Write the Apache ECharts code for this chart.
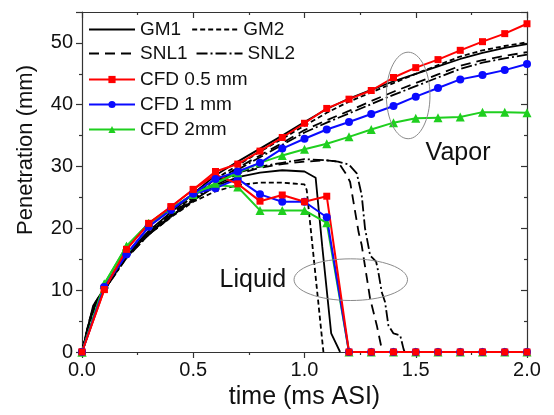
<!DOCTYPE html>
<html>
<head>
<meta charset="utf-8">
<script src="https://cdn.jsdelivr.net/npm/echarts@6/dist/echarts.min.js"></script>
<style>
  html, body { margin: 0; padding: 0; background: #fff; }
  #chart { width: 554px; height: 415px; }
</style>
</head>
<body>
<div id="chart"></div>
<script>
// ---- CFD results, sampled every 0.1 ms ----
const cfdTime = [0, 0.1, 0.2, 0.3, 0.4, 0.5, 0.6, 0.7, 0.8, 0.9, 1.0, 1.1, 1.2, 1.3, 1.4, 1.5, 1.6, 1.7, 1.8, 1.9, 2.0];

const cfd05Vapor  = [0, 10.1, 16.6, 20.8, 23.5, 26.3, 29.2, 30.4, 32.5, 34.7, 37.0, 39.4, 40.9, 42.3, 44.4, 46.0, 47.3, 48.8, 50.2, 51.5, 53.1];
const cfd1Vapor   = [0, 10.5, 15.8, 20.3, 23.0, 25.6, 28.0, 29.2, 30.6, 32.9, 34.5, 36.0, 37.2, 38.5, 39.8, 41.3, 42.7, 44.1, 44.8, 45.6, 46.6];
const cfd2Vapor   = [0, 11.0, 17.1, 20.8, 23.2, 25.5, 27.3, 29.0, 30.6, 31.8, 32.8, 33.7, 34.8, 36.0, 37.1, 37.8, 37.9, 38.0, 38.8, 38.8, 38.7];

const cfd05Liquid = [0, 10.1, 16.6, 20.8, 23.5, 26.3, 28.7, 27.2, 24.4, 25.4, 24.3, 25.2, 0, 0, 0, 0, 0, 0, 0, 0, 0];
const cfd1Liquid  = [0, 10.5, 15.8, 20.3, 23.0, 25.6, 26.5, 28.0, 25.5, 24.3, 24.3, 21.8, 0, 0, 0, 0, 0, 0, 0, 0, 0];
const cfd2Liquid  = [0, 11.0, 17.1, 20.8, 23.2, 25.5, 27.0, 26.7, 22.9, 22.9, 22.9, 20.9, 0, 0, 0, 0, 0, 0, 0, 0, 0];

// ---- Experimental vapor penetration (GM and SNL runs) ----
const expVaporTime = [0, 0.03, 0.06, 0.1, 0.15, 0.2, 0.3, 0.4, 0.5, 0.6, 0.7, 0.8, 0.9, 1.0, 1.1, 1.2, 1.3, 1.4, 1.5, 1.6, 1.7, 1.8, 1.9, 2.0];
const gm1Vapor  = [0, 4.5, 7.8, 10.0, 13.2, 15.8, 19.6, 22.6, 25.6, 28.6, 30.8, 32.9, 35.0, 37.2, 39.3, 41.0, 42.4, 43.8, 45.0, 46.2, 47.4, 48.4, 49.2, 49.8];
const gm2Vapor  = [0, 4.2, 7.4, 9.8, 13.0, 15.6, 19.4, 22.3, 25.2, 28.0, 30.2, 32.4, 34.5, 36.6, 38.7, 40.5, 42.0, 43.5, 45.0, 46.4, 47.8, 48.8, 49.5, 50.1];
const snl1Vapor = [0, 4.8, 8.0, 10.3, 13.4, 15.9, 19.3, 22.2, 25.0, 27.6, 29.8, 31.8, 33.8, 35.9, 37.5, 39.0, 40.6, 42.1, 43.5, 44.9, 46.3, 47.2, 47.9, 48.5];
const snl2Vapor = [0, 4.5, 7.6, 10.0, 13.1, 15.6, 19.0, 21.9, 24.7, 27.3, 29.5, 31.5, 33.5, 35.5, 37.1, 38.6, 40.1, 41.6, 43.0, 44.4, 45.8, 46.8, 47.5, 48.1];

// ---- Experimental liquid length ----
const gm1LiquidTime  = [0, 0.05, 0.1, 0.2, 0.3, 0.4, 0.5, 0.6, 0.7, 0.8, 0.9, 1.0, 1.05, 1.08, 1.12, 1.16];
const gm1Liquid      = [0, 7.5, 10.3, 15.5, 19.2, 22.0, 24.5, 26.8, 28.3, 29.0, 29.4, 29.2, 28.2, 17.0, 3.0, 0];
const gm2LiquidTime  = [0, 0.05, 0.1, 0.2, 0.3, 0.4, 0.5, 0.6, 0.7, 0.8, 0.9, 1.0, 1.01, 1.085];
const gm2Liquid      = [0, 7.0, 10.0, 15.3, 19.0, 21.8, 24.3, 26.0, 27.0, 27.4, 27.4, 27.1, 26.2, 0];
const snl1LiquidTime = [0, 0.05, 0.1, 0.2, 0.3, 0.4, 0.5, 0.6, 0.7, 0.8, 0.9, 1.0, 1.1, 1.15, 1.19, 1.205, 1.243, 1.257, 1.295, 1.325, 1.35];
const snl1Liquid     = [0, 7.2, 10.2, 15.4, 19.1, 22.0, 24.6, 27.0, 28.8, 29.8, 30.4, 30.8, 31.0, 30.8, 28.6, 27.5, 19.4, 17.3, 8.6, 4.3, 0];
const snl2LiquidTime = [0, 0.05, 0.1, 0.2, 0.3, 0.4, 0.5, 0.6, 0.7, 0.8, 0.9, 1.0, 1.1, 1.15, 1.2, 1.235, 1.257, 1.272, 1.295, 1.322, 1.332, 1.347, 1.362, 1.377, 1.4, 1.43, 1.445, 1.45];
const snl2Liquid     = [0, 7.0, 10.0, 15.2, 19.0, 21.9, 24.5, 27.2, 29.0, 30.0, 30.6, 31.2, 31.0, 30.8, 30.3, 28.9, 25.4, 20.0, 15.6, 14.6, 12.9, 9.7, 8.1, 4.3, 3.0, 2.7, 0.5, 0];

// ---- Annotation anchors, in data units (time, penetration) ----
const vaporRing  = [1.466, 41.5, 0.098, 7.0];
const liquidRing = [1.208, 11.7, 0.255, 3.37];
const vaporText  = [1.69, 32.1];
const liquidText = [0.768, 11.7];

const FONT = 'Liberation Sans, Arial, Helvetica, sans-serif';
const pair = (xs, ys) => xs.map((x, i) => [x, ys[i]]);

function expSeries(name, xs, ys, dash) {
  return {
    name, type: 'line', data: pair(xs, ys), symbol: 'none', smooth: false,
    lineStyle: { color: '#000', width: 1.8, type: dash },
    itemStyle: { color: '#000' },
    emphasis: { disabled: true }, animation: false
  };
}
function cfdSeries(name, ys, color, symbol, size) {
  return {
    name, type: 'line', data: pair(cfdTime, ys), symbol, symbolSize: size,
    showSymbol: true,
    lineStyle: { color, width: 2 },
    itemStyle: { color },
    emphasis: { disabled: true }, animation: false
  };
}

const dashGM2 = [5, 3];
const dashSNL1 = [10, 6];
const dashSNL2 = [11, 3, 2, 3];

const chart = echarts.init(document.getElementById('chart'), null, { renderer: 'canvas' });

const axisLineStyle = { color: '#333', width: 1.2 };
const legendText = { fontSize: 19, color: '#111', fontFamily: FONT };
// experimental runs show a plain line in the legend, no marker
const lineOnly = name => ({ name, itemStyle: { opacity: 0 } });

chart.setOption({
  animation: false,
  backgroundColor: '#fff',
  textStyle: { fontFamily: FONT },
  grid: { left: 82, right: 27, top: 12, bottom: 63, containLabel: false },
  legend: [
    {
      data: [lineOnly('GM1'), lineOnly('GM2')], left: 88, top: 20, padding: 0, itemGap: 10,
      itemWidth: 46, itemHeight: 9, selectedMode: false, textStyle: legendText
    },
    {
      data: [lineOnly('SNL1'), lineOnly('SNL2')], left: 88, top: 44, padding: 0, itemGap: 8,
      itemWidth: 46, itemHeight: 9, selectedMode: false, textStyle: legendText
    },
    {
      data: ['CFD 0.5 mm', 'CFD 1 mm', 'CFD 2mm'], orient: 'vertical',
      left: 88, top: 70, padding: 0, itemGap: 6,
      itemWidth: 46, itemHeight: 9, selectedMode: false, textStyle: legendText
    }
  ],
  xAxis: [
    {
      type: 'value', position: 'bottom', min: 0, max: 2, interval: 0.5,
      name: 'time (ms ASI)', nameLocation: 'middle', nameGap: 29,
      nameTextStyle: { fontSize: 25, color: '#111', fontFamily: FONT },
      axisLine: { show: true, onZero: false, lineStyle: axisLineStyle },
      axisTick: { show: true, inside: false, length: 6, lineStyle: axisLineStyle },
      minorTick: { show: true, splitNumber: 2, length: 3, lineStyle: axisLineStyle },
      axisLabel: { fontSize: 20, color: '#111', margin: 8, formatter: v => v.toFixed(1) },
      splitLine: { show: false }, minorSplitLine: { show: false }
    },
    {
      type: 'value', position: 'top', min: 0, max: 2, interval: 0.5,
      axisLine: { show: true, onZero: false, lineStyle: axisLineStyle },
      axisTick: { show: true, inside: true, length: 6, lineStyle: axisLineStyle },
      minorTick: { show: true, splitNumber: 2, length: 3, lineStyle: axisLineStyle },
      axisLabel: { show: false }, splitLine: { show: false }
    }
  ],
  yAxis: [
    {
      type: 'value', position: 'left', min: 0, max: 55, interval: 10,
      name: 'Penetration (mm)', nameLocation: 'middle', nameGap: 45,
      nameTextStyle: { fontSize: 22, color: '#111', fontFamily: FONT, padding: [0, 0, 0, 64] },
      axisLine: { show: true, onZero: false, lineStyle: axisLineStyle },
      axisTick: { show: true, inside: false, length: 6, lineStyle: axisLineStyle },
      minorTick: { show: true, splitNumber: 2, length: 3, lineStyle: axisLineStyle },
      axisLabel: { fontSize: 20, color: '#111', margin: 9, formatter: v => (v > 50 ? '' : String(v)) },
      splitLine: { show: false }
    },
    {
      type: 'value', position: 'right', min: 0, max: 55, interval: 10,
      axisLine: { show: true, onZero: false, lineStyle: axisLineStyle },
      axisTick: { show: true, inside: true, length: 6, lineStyle: axisLineStyle },
      minorTick: { show: true, splitNumber: 2, length: 3, lineStyle: axisLineStyle },
      axisLabel: { show: false }, splitLine: { show: false }
    }
  ],
  series: [
    expSeries('GM1', expVaporTime, gm1Vapor, 'solid'),
    expSeries('GM2', expVaporTime, gm2Vapor, dashGM2),
    expSeries('SNL1', expVaporTime, snl1Vapor, dashSNL1),
    expSeries('SNL2', expVaporTime, snl2Vapor, dashSNL2),
    expSeries('GM1', gm1LiquidTime, gm1Liquid, 'solid'),
    expSeries('GM2', gm2LiquidTime, gm2Liquid, dashGM2),
    expSeries('SNL1', snl1LiquidTime, snl1Liquid, dashSNL1),
    expSeries('SNL2', snl2LiquidTime, snl2Liquid, dashSNL2),
    cfdSeries('CFD 2mm', cfd2Liquid, '#1fcf1f', 'triangle', 9),
    cfdSeries('CFD 1 mm', cfd1Liquid, '#0a0aff', 'circle', 8),
    cfdSeries('CFD 0.5 mm', cfd05Liquid, '#ff0000', 'rect', 7),
    cfdSeries('CFD 2mm', cfd2Vapor, '#1fcf1f', 'triangle', 9),
    cfdSeries('CFD 1 mm', cfd1Vapor, '#0a0aff', 'circle', 8),
    cfdSeries('CFD 0.5 mm', cfd05Vapor, '#ff0000', 'rect', 7)
  ]
});

// Annotation rings and labels placed through the axes' own scales
function toPx(t, p) { return chart.convertToPixel({ gridIndex: 0 }, [t, p]); }
function ring(a) {
  const c = toPx(a[0], a[1]);
  const e = toPx(a[0] + a[2], a[1] + a[3]);
  return {
    type: 'ellipse', silent: true, z: 50,
    shape: { cx: c[0], cy: c[1], rx: Math.abs(e[0] - c[0]), ry: Math.abs(e[1] - c[1]) },
    style: { fill: 'none', stroke: '#8a8a8a', lineWidth: 1 }
  };
}
function label(a, text) {
  const c = toPx(a[0], a[1]);
  return {
    type: 'text', silent: true, z: 50, x: c[0], y: c[1],
    style: { text, fill: '#111', font: '25px ' + FONT, align: 'center', verticalAlign: 'middle' }
  };
}
chart.setOption({
  graphic: [
    ring(vaporRing), ring(liquidRing),
    label(vaporText, 'Vapor'), label(liquidText, 'Liquid')
  ]
});
</script>
</body>
</html>
